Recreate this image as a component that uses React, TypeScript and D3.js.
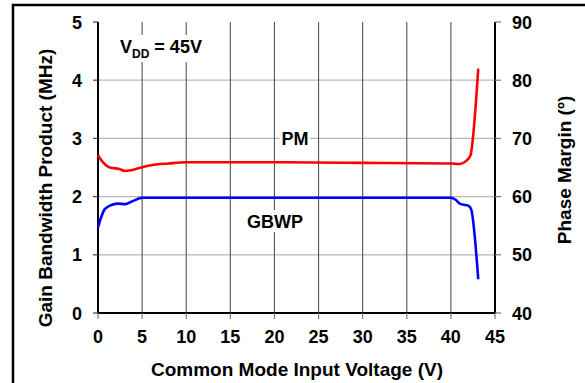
import React from "react";
import * as d3 from "d3";

const xTicks = [0, 5, 10, 15, 20, 25, 30, 35, 40, 45];
const gbwTicks = [0, 1, 2, 3, 4, 5];
const pmTicks = [40, 50, 60, 70, 80, 90];

const gbwV = [0, 0.3, 0.7, 1.17, 1.6, 2.3, 3.06, 3.6, 4.2, 4.7, 5.1, 6, 8, 10, 15, 20, 25, 30, 35, 40.0, 40.5, 41.0, 41.5, 42.0, 42.3, 43.1];
const gbwY = [1.47, 1.62, 1.77, 1.83, 1.86, 1.88, 1.87, 1.9, 1.94, 1.97, 1.98, 1.98, 1.98, 1.98, 1.98, 1.98, 1.98, 1.98, 1.98, 1.98, 1.95, 1.88, 1.86, 1.84, 1.78, 0.58];

const pmV = [0, 0.5, 1.17, 1.7, 2.3, 3.06, 3.6, 4.2, 5.1, 6, 8, 10, 15, 20, 30, 40, 41, 41.7, 42.2, 43.1];
const pmY = [67.1, 66.0, 65.1, 64.9, 64.8, 64.4, 64.5, 64.7, 65.1, 65.4, 65.7, 65.9, 65.9, 65.9, 65.8, 65.7, 65.6, 66.1, 67.0, 82.0];

const font = "'Liberation Sans', Arial, sans-serif";

export default function App() {
  const x = d3.scaleLinear().domain([0, 45]).range([98, 495]);
  const yL = d3.scaleLinear().domain([0, 5]).range([313, 22]);
  const yR = d3.scaleLinear().domain([40, 90]).range([313, 22]);

  const gbwLine = d3
    .line<number>()
    .x((_, i) => x(gbwV[i]))
    .y((d) => yL(d))
    .curve(d3.curveMonotoneX)(gbwY) as string;
  const pmLine = d3
    .line<number>()
    .x((_, i) => x(pmV[i]))
    .y((d) => yR(d))
    .curve(d3.curveMonotoneX)(pmY) as string;

  return (
    <svg
      width={585}
      height={383}
      style={{ position: "absolute", left: 0, top: 0, background: "#fff" }}
      fontFamily={font}
      fontWeight="bold"
    >
      <rect x={13} y={5} width={620} height={420} fill="#fff" stroke="#000" strokeWidth={2.5} />
      {/* horizontal grid */}
      {gbwTicks.slice(1, -1).map((t) => (
        <line key={"h" + t} x1={x(0)} x2={x(45)} y1={yL(t)} y2={yL(t)} stroke="#b8b8b8" strokeWidth={1.3} />
      ))}
      {/* vertical grid */}
      {xTicks.slice(1, -1).map((t) => (
        <line key={"v" + t} x1={x(t)} x2={x(t)} y1={yL(5)} y2={yL(0)} stroke="#555" strokeWidth={1.1} />
      ))}
      {/* annotations with white backgrounds */}
      <rect x={280} y={126} width={30} height={22} fill="#fff" />
      <text x={295} y={145} fontSize={18} textAnchor="middle">PM</text>
      <rect x={246} y={210} width={58} height={22} fill="#fff" />
      <text x={275} y={228} fontSize={18} textAnchor="middle">GBWP</text>
      <rect x={117} y={35} width={86} height={27} fill="#fff" />
      <text x={120} y={53} fontSize={18}>
        V<tspan fontSize={12} dy={5}>DD</tspan>
        <tspan dy={-5}> = 45V</tspan>
      </text>
      {/* axes */}
      <line x1={x(0)} x2={x(0)} y1={yL(5)} y2={yL(0)} stroke="#000" strokeWidth={2} />
      <line x1={x(45)} x2={x(45)} y1={yL(5)} y2={yL(0)} stroke="#000" strokeWidth={2} />
      <line x1={x(0) - 1} x2={x(45) + 1} y1={yL(0)} y2={yL(0)} stroke="#000" strokeWidth={2} />
      {gbwTicks.map((t) => (
        <g key={"l" + t}>
          <line x1={x(0) - 5} x2={x(0)} y1={yL(t)} y2={yL(t)} stroke="#444" strokeWidth={1.2} />
          <text x={82} y={yL(t) + 6.5} fontSize={18} textAnchor="end">{t}</text>
        </g>
      ))}
      {pmTicks.map((t) => (
        <g key={"r" + t}>
          <line x1={x(45)} x2={x(45) + 6} y1={yR(t)} y2={yR(t)} stroke="#777" strokeWidth={1.2} />
          <text x={512} y={yR(t) + 6.5} fontSize={18}>{t}</text>
        </g>
      ))}
      {xTicks.map((t) => (
        <g key={"b" + t}>
          <line x1={x(t)} x2={x(t)} y1={yL(0)} y2={yL(0) + 6} stroke="#777" strokeWidth={1.2} />
          <text x={x(t)} y={343} fontSize={18} textAnchor="middle">{t}</text>
        </g>
      ))}
      {/* data */}
      <path d={pmLine} fill="none" stroke="#ff0000" strokeWidth={2.6} />
      <path d={gbwLine} fill="none" stroke="#0000ff" strokeWidth={2.6} />
      {/* titles */}
      <text x={297} y={376} fontSize={19} textAnchor="middle">Common Mode Input Voltage (V)</text>
      <text transform="translate(52,188) rotate(-90)" fontSize={19} textAnchor="middle">
        Gain Bandwidth Product (MHz)
      </text>
      <text transform="translate(571,170) rotate(-90)" fontSize={19} textAnchor="middle">
        Phase Margin (º)
      </text>
    </svg>
  );
}
